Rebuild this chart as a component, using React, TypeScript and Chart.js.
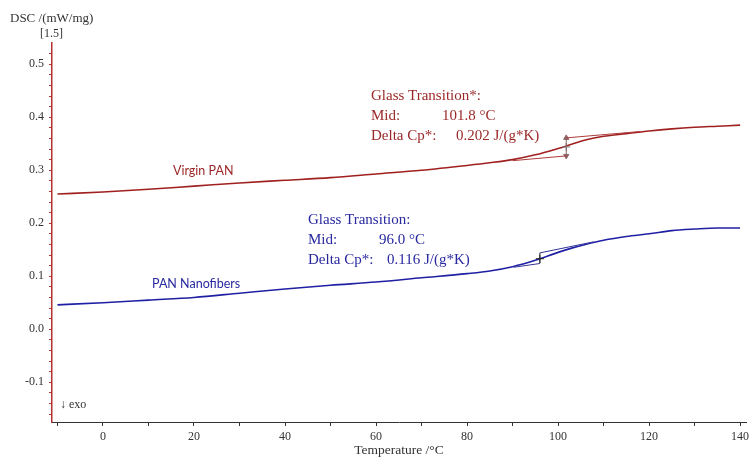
import React, { useEffect, useRef } from 'react';
import { Chart, registerables } from 'chart.js';

Chart.register(...registerables);

// ---- data ----
const temperatures = [-10, 0, 10, 20, 30, 40, 50, 60, 70, 80, 85, 90, 95, 100, 103, 106, 110, 115, 120, 125, 130, 135, 140];
const virginPan = [0.255, 0.259, 0.264, 0.270, 0.276, 0.281, 0.286, 0.293, 0.300, 0.309, 0.314, 0.320, 0.329, 0.341, 0.349, 0.357, 0.364, 0.369, 0.374, 0.378, 0.381, 0.383, 0.385];
const panNanofibers = [0.046, 0.050, 0.055, 0.060, 0.068, 0.076, 0.083, 0.089, 0.097, 0.105, 0.110, 0.118, 0.130, 0.145, 0.153, 0.160, 0.168, 0.175, 0.180, 0.186, 0.189, 0.191, 0.191];

// glass-transition constructions
const virginLowerT = [90, 101.8];
const virginLowerV = [0.318, 0.327];
const virginUpperT = [101.8, 118];
const virginUpperV = [0.361, 0.373];
const virginStepT = [101.8, 101.8];
const virginStepV = [0.327, 0.361];
const virginMid = { t: 101.8, v: 0.344 };

const nanoLowerT = [90.3, 96.0];
const nanoLowerV = [0.117, 0.124];
const nanoUpperT = [96.0, 107.9];
const nanoUpperV = [0.144, 0.165];
const nanoStepT = [96.0, 96.0];
const nanoStepV = [0.124, 0.144];
const nanoMid = { t: 96.0, v: 0.133 };

// ticks
const xTickValues = [-10, 0, 10, 20, 30, 40, 50, 60, 70, 80, 90, 100, 110, 120, 130, 140];
const xLabelValues = [0, 20, 40, 60, 80, 100, 120, 140];
const yTickValues: number[] = [];
for (let k = -8; k <= 26; k++) yTickValues.push(Math.round(k * 2) / 100);

const RED = 'rgb(160,32,32)';
const BLUE = 'rgb(32,32,165)';
const RED_TEXT = 'rgb(155,40,40)';
const BLUE_TEXT = 'rgb(40,40,160)';
const SERIF = "'Liberation Serif', 'DejaVu Serif', serif";
const SANS = "Lato, 'Open Sans', sans-serif";

const zip = (t: number[], v: number[]) => t.map((x, i) => ({ x, y: v[i] }));

const textPlugin = {
  id: 'texts',
  afterDraw(chart: any) {
    const ctx = chart.ctx;
    ctx.save();
    ctx.textBaseline = 'alphabetic';
    ctx.textAlign = 'left';
    const put = (s: string, x: number, y: number, color: string, font: string) => {
      ctx.fillStyle = color;
      ctx.font = font;
      ctx.fillText(s, x, y);
    };
    // axis captions
    put('DSC /(mW/mg)', 10, 22, '#333', `13px ${SERIF}`);
    put('[1.5]', 40, 37, '#333', `12px ${SERIF}`);
    put('\u2193 exo', 60, 408, '#333', `12px ${SERIF}`);
    // series labels
    put('Virgin PAN', 173, 175, RED_TEXT, `12.5px ${SANS}`);
    put('PAN Nanofibers', 152, 288, BLUE_TEXT, `12.5px ${SANS}`);
    // virgin annotation
    const fa = `15px ${SERIF}`;
    put('Glass Transition*:', 371, 100, RED_TEXT, fa);
    put('Mid:', 371, 120, RED_TEXT, fa);
    put('101.8 \u00B0C', 442, 120, RED_TEXT, fa);
    put('Delta Cp*:', 371, 140, RED_TEXT, fa);
    put('0.202 J/(g*K)', 456, 140, RED_TEXT, fa);
    // nanofiber annotation
    put('Glass Transition:', 308, 224, BLUE_TEXT, fa);
    put('Mid:', 308, 244, BLUE_TEXT, fa);
    put('96.0 \u00B0C', 379, 244, BLUE_TEXT, fa);
    put('Delta Cp*:', 308, 264, BLUE_TEXT, fa);
    put('0.116 J/(g*K)', 387, 264, BLUE_TEXT, fa);
    ctx.restore();
  },
};

export default function App() {
  const ref = useRef<HTMLCanvasElement | null>(null);

  useEffect(() => {
    if (!ref.current) return;
    const line = (data: any[], color: string, width: number, extra: any = {}) => ({
      data,
      borderColor: color,
      backgroundColor: color,
      borderWidth: width,
      pointRadius: 0,
      fill: false,
      ...extra,
    });
    const chart = new Chart(ref.current, {
      type: 'line',
      data: {
        datasets: [
          line(zip(virginLowerT, virginLowerV), 'rgb(175,60,60)', 1),
          line(zip(virginUpperT, virginUpperV), 'rgb(175,60,60)', 1),
          line(zip(virginStepT, virginStepV), 'rgb(140,100,100)', 1, {
            pointRadius: 3,
            pointStyle: 'triangle',
            rotation: [180, 0],
          }),
          line([{ x: virginMid.t, y: virginMid.v }], 'rgb(120,120,120)', 1, {
            pointRadius: 4,
            pointStyle: 'cross',
            showLine: false,
          }),
          line(zip(nanoLowerT, nanoLowerV), 'rgb(50,50,150)', 1),
          line(zip(nanoUpperT, nanoUpperV), 'rgb(50,50,150)', 1),
          line(zip(nanoStepT, nanoStepV), 'rgb(40,40,40)', 1),
          line([{ x: nanoMid.t, y: nanoMid.v }], 'rgb(30,30,30)', 1, {
            pointRadius: 4,
            pointStyle: 'cross',
            showLine: false,
          }),
          line(zip(temperatures, virginPan), RED, 1.6, { cubicInterpolationMode: 'monotone' }),
          line(zip(temperatures, panNanofibers), BLUE, 1.6, { cubicInterpolationMode: 'monotone' }),
        ],
      },
      options: {
        responsive: false,
        animation: false,
        layout: { padding: { top: 43, right: 5, left: 0, bottom: 0 } },
        plugins: { legend: { display: false }, tooltip: { enabled: false } },
        scales: {
          x: {
            type: 'linear',
            min: -11.2,
            max: 141.3,
            afterBuildTicks: (s: any) => {
              s.ticks = xTickValues.map((v) => ({ value: v }));
            },
            afterFit: (s: any) => {
              s.height = 35;
              s.paddingLeft = 0;
              s.paddingRight = 0;
            },
            grid: { drawOnChartArea: false, drawTicks: true, tickLength: 4, tickColor: '#333' },
            border: { display: true, color: '#333', width: 1 },
            ticks: {
              autoSkip: false,
              maxRotation: 0,
              padding: 4,
              color: '#333',
              font: { family: SERIF, size: 12 },
              callback: (v: any) => (xLabelValues.includes(Number(v)) ? String(v) : ''),
            },
            title: {
              display: true,
              text: 'Temperature /\u00B0C',
              color: '#333',
              font: { family: SERIF, size: 13.5, lineHeight: 1 },
              padding: { top: 0, bottom: 0 },
            },
          },
          y: {
            type: 'linear',
            min: -0.175,
            max: 0.54,
            afterBuildTicks: (s: any) => {
              s.ticks = yTickValues.map((v) => ({ value: v }));
            },
            afterFit: (s: any) => {
              s.width = 52;
              s.paddingTop = 0;
              s.paddingBottom = 0;
            },
            grid: { drawOnChartArea: false, drawTicks: true, tickLength: 3, tickColor: 'rgb(180,50,50)' },
            border: { display: true, color: 'rgb(180,50,50)', width: 1.5 },
            ticks: {
              autoSkip: false,
              padding: 5,
              color: '#333',
              font: { family: SERIF, size: 12 },
              callback: (v: any) => {
                const n = Number(v) * 10;
                return Math.abs(n - Math.round(n)) < 1e-6 ? (Math.round(n) / 10).toFixed(1) : '';
              },
            },
          },
        },
      },
      plugins: [textPlugin],
    } as any);
    return () => chart.destroy();
  }, []);

  return (
    <div style={{ position: 'fixed', left: 0, top: 0, width: 751, height: 457, background: '#fff' }}>
      <canvas ref={ref} width={751} height={457} />
    </div>
  );
}
